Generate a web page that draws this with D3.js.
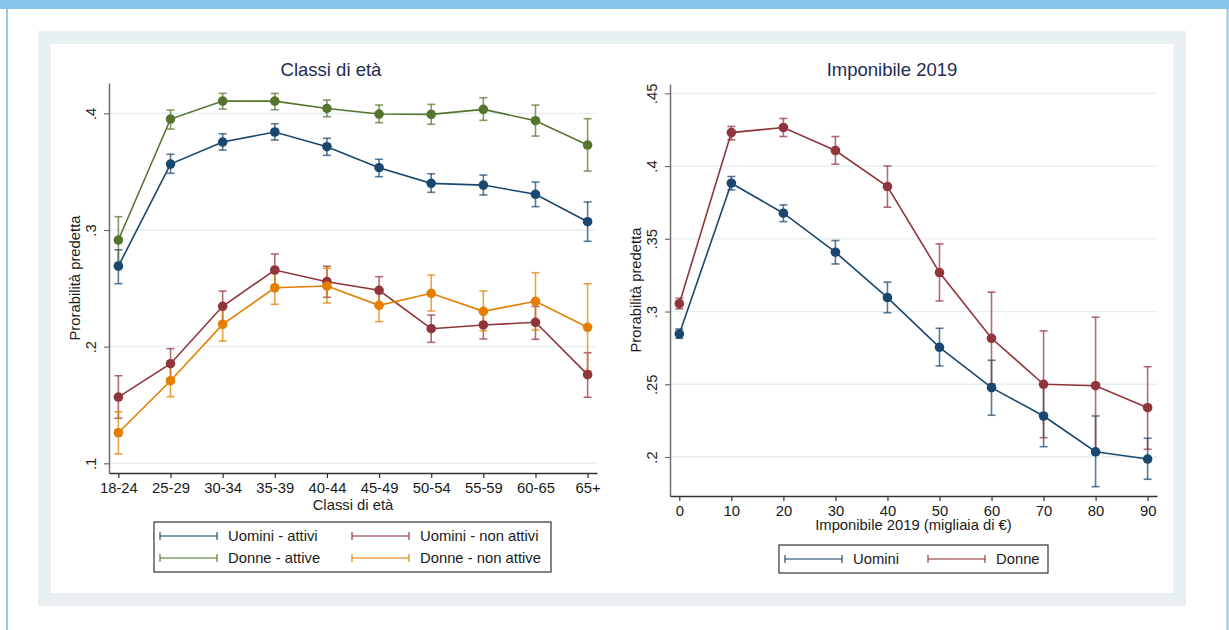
<!DOCTYPE html>
<html><head><meta charset="utf-8">
<script src="https://cdn.jsdelivr.net/npm/d3@7"></script>
<style>
body{margin:0;background:#fff;}
svg{display:block;font-family:"Liberation Sans",Arial,Helvetica,sans-serif;}
</style>
</head><body>
<svg id="chart" width="1229" height="630"></svg>
<script>
// ---------- DATA ----------
const ageClasses = ["18-24","25-29","30-34","35-39","40-44","45-49","50-54","55-59","60-65","65+"];
// [estimate, lower CI, upper CI]
const uominiAttivi = [[0.269,0.254,0.283],[0.3565,0.3486,0.3649],[0.3754,0.3685,0.3825],[0.384,0.3771,0.3911],[0.3714,0.364,0.3786],[0.3534,0.3457,0.3606],[0.340,0.3323,0.3482],[0.3385,0.330,0.3471],[0.3306,0.320,0.3411],[0.3071,0.2903,0.324]];
const uominiNonAttivi = [[0.1568,0.1386,0.1751],[0.1854,0.1725,0.1983],[0.2346,0.2215,0.2477],[0.2657,0.252,0.2794],[0.2557,0.2423,0.2689],[0.2483,0.2366,0.260],[0.2154,0.2037,0.2271],[0.2186,0.2066,0.2305],[0.2209,0.2063,0.2345],[0.176,0.1566,0.1948]];
const donneAttive = [[0.2914,0.272,0.3114],[0.3951,0.3865,0.4028],[0.4105,0.4037,0.4171],[0.4105,0.4031,0.4171],[0.4042,0.3971,0.4114],[0.3994,0.392,0.4071],[0.3991,0.3906,0.4077],[0.4034,0.394,0.4134],[0.3937,0.3805,0.4071],[0.3728,0.3505,0.3954]];
const donneNonAttive = [[0.1262,0.108,0.1442],[0.1708,0.1571,0.1845],[0.2191,0.2048,0.2334],[0.2505,0.2363,0.2648],[0.252,0.2374,0.2671],[0.2354,0.2214,0.249],[0.2457,0.2306,0.2614],[0.2303,0.2137,0.2477],[0.2389,0.2143,0.2634],[0.2166,0.1791,0.2539]];
const ageTicksY = [0.1,0.2,0.3,0.4];

const imponibile = [0,10,20,30,40,50,60,70,80,90];
const uomini = [[0.2846,0.2816,0.288],[0.3882,0.3836,0.3928],[0.3676,0.3618,0.3733],[0.3408,0.3327,0.3488],[0.3096,0.2992,0.3202],[0.2754,0.2626,0.2885],[0.2477,0.2287,0.2665],[0.2282,0.2071,0.2494],[0.2036,0.1796,0.2282],[0.1986,0.1847,0.2129]];
const donne = [[0.3054,0.3018,0.3091],[0.423,0.418,0.4272],[0.4265,0.4203,0.4327],[0.4107,0.4013,0.4203],[0.3859,0.3717,0.4001],[0.3268,0.3073,0.3465],[0.2816,0.2502,0.3133],[0.250,0.2133,0.2867],[0.249,0.2019,0.2961],[0.2339,0.2053,0.2621]];
const incTicksY = [0.2,0.25,0.3,0.35,0.4,0.45];

// ---------- STYLE ----------
const C = {navy:"#1a476f", maroon:"#90353b", green:"#55752f", orange:"#e37e00"};
const gridColor = "#e4eef0";
const titleColor = "#1e2c52";
const textColor = "#1a1a1a";
const fmt = d => String(d).replace(/^0\./, ".");

const svg = d3.select("#chart");

// outer frame
svg.append("rect").attr("x",0).attr("y",0).attr("width",1229).attr("height",630).attr("fill","#fff");
svg.append("rect").attr("x",0).attr("y",0).attr("width",1229).attr("height",9).attr("fill","#86c4ea");
svg.append("rect").attr("x",6).attr("y",9).attr("width",2).attr("height",621).attr("fill","#8ecaee");
svg.append("rect").attr("x",1226.5).attr("y",9).attr("width",2).attr("height",621).attr("fill","#8ecaee");
// graph region (gray border + white inner)
svg.append("rect").attr("x",38).attr("y",31).attr("width",1148).attr("height",575).attr("fill","#e8f0f2");
svg.append("rect").attr("x",51).attr("y",44).attr("width",1122).attr("height",549).attr("fill","#fff");

function panel(cfg){
  const g = svg.append("g");
  const x = cfg.x, y = cfg.y;
  const [x0,x1] = x.range();
  // gridlines
  g.selectAll("line.grid").data(cfg.yTicks).join("line")
    .attr("x1",x0).attr("x2",x1).attr("y1",d=>y(d)).attr("y2",d=>y(d))
    .attr("stroke",gridColor).attr("stroke-width",1.3);
  // y axis
  const ya = g.append("g").attr("transform",`translate(${x0},0)`)
    .call(d3.axisLeft(y).tickValues(cfg.yTicks).tickFormat(fmt).tickSize(5).tickSizeOuter(0));
  ya.select(".domain").attr("stroke","#6f6f6f").attr("stroke-width",1.5);
  ya.selectAll(".tick line").attr("stroke","#6f6f6f").attr("stroke-width",1.2);
  ya.selectAll(".tick text").attr("transform","rotate(-90)").attr("x",0).attr("y",-13).attr("dy",0)
    .attr("text-anchor","middle").attr("fill",textColor).style("font-size","14.8px").style("font-family","inherit");
  // x axis
  const xa = g.append("g").attr("transform",`translate(0,${y.range()[0]})`)
    .call(d3.axisBottom(x).tickValues(cfg.xTicks).tickFormat(cfg.xFormat).tickSize(5).tickSizeOuter(0).tickPadding(4));
  xa.select(".domain").attr("stroke","#333").attr("stroke-width",1.5);
  xa.selectAll(".tick line").attr("stroke","#333").attr("stroke-width",1.2);
  xa.selectAll(".tick text").attr("fill",textColor).style("font-size","14.8px").style("font-family","inherit");
  // titles
  g.append("text").attr("x",cfg.titleX).attr("y",76).attr("text-anchor","middle")
    .attr("fill",titleColor).style("font-size","18.5px").text(cfg.title);
  g.append("text").attr("x",(x0+x1)/2).attr("y",cfg.xTitleY).attr("text-anchor","middle")
    .attr("fill",textColor).style("font-size","14.8px").text(cfg.xTitle);
  const ym = (y.range()[0]+y.range()[1])/2;
  g.append("text").attr("transform",`translate(${cfg.yTitleX},${ym}) rotate(-90)`).attr("text-anchor","middle")
    .attr("fill",textColor).style("font-size","14.8px").text("Prorabilità predetta");
  // series: CIs first
  cfg.series.forEach(s=>{
    const cg = g.append("g").attr("stroke",s.color).attr("stroke-opacity",0.72).attr("stroke-width",1.6);
    s.data.forEach((d,i)=>{
      const cx = x(cfg.xVals[i]);
      cg.append("line").attr("x1",cx).attr("x2",cx).attr("y1",y(d[1])).attr("y2",y(d[2]));
      cg.append("line").attr("x1",cx-4).attr("x2",cx+4).attr("y1",y(d[1])).attr("y2",y(d[1]));
      cg.append("line").attr("x1",cx-4).attr("x2",cx+4).attr("y1",y(d[2])).attr("y2",y(d[2]));
    });
  });
  cfg.series.forEach(s=>{
    const line = d3.line().x((d,i)=>x(cfg.xVals[i])).y(d=>y(d[0]));
    g.append("path").datum(s.data).attr("d",line).attr("fill","none")
      .attr("stroke",s.color).attr("stroke-width",1.6);
    g.selectAll(null).data(s.data).join("circle")
      .attr("cx",(d,i)=>x(cfg.xVals[i])).attr("cy",d=>y(d[0])).attr("r",4.8).attr("fill",s.color);
  });
  // legend
  const L = cfg.legend;
  g.append("rect").attr("x",L.x).attr("y",L.y).attr("width",L.w).attr("height",L.h)
    .attr("fill","#fff").attr("stroke","#333").attr("stroke-width",1.2);
  L.items.forEach(it=>{
    const kg = g.append("g").attr("stroke",it.color).attr("stroke-opacity",0.72).attr("stroke-width",1.6);
    kg.append("line").attr("x1",it.kx).attr("x2",it.kx+57).attr("y1",it.ky).attr("y2",it.ky);
    kg.append("line").attr("x1",it.kx).attr("x2",it.kx).attr("y1",it.ky-4).attr("y2",it.ky+4);
    kg.append("line").attr("x1",it.kx+57).attr("x2",it.kx+57).attr("y1",it.ky-4).attr("y2",it.ky+4);
    g.append("text").attr("x",it.kx+68).attr("y",it.ky+5).attr("fill",textColor)
      .style("font-size","14.8px").text(it.label);
  });
}

// left panel
const xAge = d3.scalePoint().domain(d3.range(ageClasses.length)).range([109,597]).padding(0.18);
const yAge = d3.scaleLinear().domain([0.0917,0.426]).range([473,83]);
panel({
  x:xAge, y:yAge, xVals:d3.range(ageClasses.length), xTicks:d3.range(ageClasses.length),
  xFormat:i=>ageClasses[i], yTicks:ageTicksY,
  title:"Classi di età", titleX:331, xTitle:"Classi di età", xTitleY:510, yTitleX:80,
  series:[
    {data:uominiNonAttivi,color:C.maroon},
    {data:donneNonAttive,color:C.orange},
    {data:uominiAttivi,color:C.navy},
    {data:donneAttive,color:C.green}
  ],
  legend:{x:154,y:522,w:397,h:50,items:[
    {label:"Uomini - attivi",color:C.navy,kx:160,ky:536},
    {label:"Uomini - non attivi",color:C.maroon,kx:352,ky:536},
    {label:"Donne - attive",color:C.green,kx:160,ky:558},
    {label:"Donne - non attive",color:C.orange,kx:352,ky:558}
  ]}
});

// right panel
const xInc = d3.scaleLinear().domain([-1.79,91.8]).range([670,1157]);
const yInc = d3.scaleLinear().domain([0.1732,0.4564]).range([496,84]);
panel({
  x:xInc, y:yInc, xVals:imponibile, xTicks:imponibile, xFormat:d=>d, yTicks:incTicksY,
  title:"Imponibile 2019", titleX:892, xTitle:"Imponibile 2019 (migliaia di €)", xTitleY:530, yTitleX:641,
  series:[
    {data:uomini,color:C.navy},
    {data:donne,color:C.maroon}
  ],
  legend:{x:779,y:545,w:269,h:28,items:[
    {label:"Uomini",color:C.navy,kx:785,ky:559},
    {label:"Donne",color:C.maroon,kx:928,ky:559}
  ]}
});
</script>
</body></html>
